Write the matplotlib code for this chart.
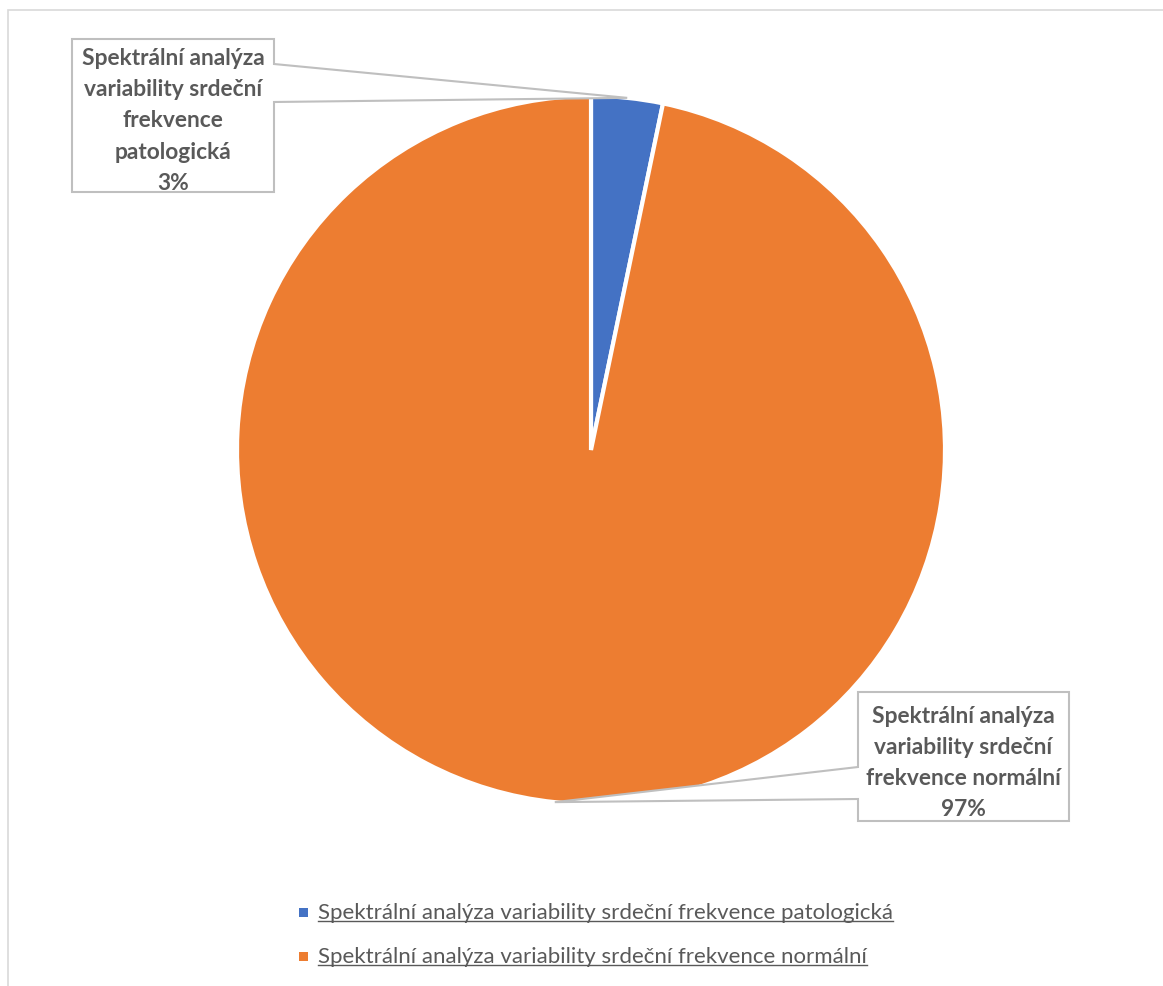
import numpy as np
import matplotlib.pyplot as plt
from matplotlib.patches import Polygon, Rectangle
from matplotlib.lines import Line2D

W, H = 1163, 987

labels = ['Spektrální analýza variability srdeční frekvence patologická',
          'Spektrální analýza variability srdeční frekvence normální']
box_text = ['Spektrální analýza\nvariability srdeční\nfrekvence\npatologická',
            'Spektrální analýza\nvariability srdeční\nfrekvence normální']
counts = [3, 89]
colors = ['#4472C4', '#ED7D31']

text_color = '#595959'
line_color = '#bfbfbf'
font = ['Lato', 'DejaVu Sans']


def py(y):
    # pixel rows counted from the top -> data y
    return H - y


fig = plt.figure(figsize=(W / 100, H / 100), dpi=100)
ax = fig.add_axes([0, 0, 1, 1])
ax.set_xlim(0, W)
ax.set_ylim(0, H)
ax.axis('off')

# outer chart frame
ax.add_patch(Rectangle((8, -10), W + 20, py(11) + 10, fill=False,
                       edgecolor='#d9d9d9', lw=1.2))

cx, cy, r = 591, 451, 354
wedges, _ = ax.pie(counts, colors=colors, startangle=90, counterclock=False,
                   center=(cx, py(cy)), radius=r,
                   wedgeprops=dict(edgecolor='white', linewidth=3))
ax.set_xlim(0, W)
ax.set_ylim(0, H)
ax.set_aspect('equal')

total = sum(counts)
pct = [round(100 * c / total) for c in counts]

# tip of each callout = middle of the slice's arc
tips = []
for w in wedges:
    mid = np.deg2rad((w.theta1 + w.theta2) / 2)
    tips.append((cx + r * np.cos(mid), py(cy) + r * np.sin(mid)))

# callout for the small slice: box on the left, pointer from the right side
x0, x1, y0, y1 = 72, 274, 40, 193
pts = [(x0, py(y0)), (x1, py(y0)), (x1, py(65)), tips[0], (x1, py(103)),
       (x1, py(y1)), (x0, py(y1))]
ax.add_patch(Polygon(pts, closed=True, facecolor='white', edgecolor=line_color,
                     lw=1.5, zorder=5))
ax.text((x0 + x1) / 2, py(121), f'{box_text[0]}\n{pct[0]}%', ha='center',
        va='center', fontsize=16.4, fontweight='bold', color=text_color,
        family=font, linespacing=1.6, zorder=6)

# callout for the big slice: box bottom right, pointer from the left side
x0, x1, y0, y1 = 858, 1069, 693, 822
pts = [(x0, py(y0)), (x1, py(y0)), (x1, py(y1)), (x0, py(y1)), (x0, py(800)),
       tips[1], (x0, py(768))]
ax.add_patch(Polygon(pts, closed=True, facecolor='white', edgecolor=line_color,
                     lw=1.5, zorder=5))
ax.text((x0 + x1) / 2, py(763), f'{box_text[1]}\n{pct[1]}%', ha='center',
        va='center', fontsize=16.4, fontweight='bold', color=text_color,
        family=font, linespacing=1.6, zorder=6)

# legend, drawn by hand with underlined entries
leg_y = [913, 957]
legend_texts = []
for lab, col, y in zip(labels, colors, leg_y):
    ax.add_patch(Rectangle((299, py(y) - 4.5), 9, 9, facecolor=col,
                           edgecolor='none'))
    t = ax.text(318, py(y), lab, ha='left', va='center', fontsize=16,
                color=text_color, family=font)
    legend_texts.append(t)

fig.canvas.draw()
renderer = fig.canvas.get_renderer()
for t in legend_texts:
    bb = t.get_window_extent(renderer)
    yline = bb.y0 + 1
    ax.add_line(Line2D([bb.x0, bb.x1], [yline, yline], color=text_color,
                       lw=1, transform=None))

fig.savefig('out.png', dpi=100, facecolor='white')
